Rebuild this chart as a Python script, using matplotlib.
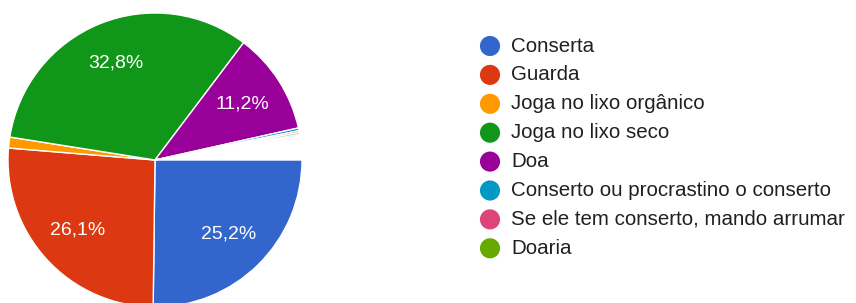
import matplotlib
matplotlib.use("Agg")
import matplotlib.pyplot as plt

plt.rcParams['font.family'] = ['Liberation Sans', 'DejaVu Sans']

categories = ["Conserta", "Guarda", "Joga no lixo orgânico", "Joga no lixo seco",
              "Doa", "Conserto ou procrastino o conserto",
              "Se ele tem conserto, mando arrumar", "Doaria"]
shares = [0.252, 0.261, 0.012, 0.328, 0.112, 0.003, 0.002, 0.002]
colors = ["#3366cc", "#dc3912", "#ff9900", "#109618", "#990099",
          "#0099c6", "#dd4477", "#66aa00"]

W, H = 856, 303
fig = plt.figure(figsize=(W / 100, H / 100), dpi=100)

# pie axes (pixel geometry: centre 155,160 ; radius 147)
cx, cy, r = 155, 160, 147
ax = fig.add_axes([(cx - r) / W, (H - cy - r) / H, 2 * r / W, 2 * r / H])

def fmt(p):
    return (f"{p:.1f}%".replace(".", ",")) if p > 5 else ""

wedges, texts, autotexts = ax.pie(
    shares, colors=colors, startangle=0, counterclock=False, normalize=False,
    autopct=fmt, pctdistance=0.71,
    wedgeprops=dict(edgecolor="white", linewidth=1.0),
    textprops=dict(color="white", fontsize=14))
ax.set_xlim(-1, 1)
ax.set_ylim(-1, 1)
ax.set_aspect("equal")
ax.axis("off")

# legend
lax = fig.add_axes([0, 0, 1, 1])
lax.set_xlim(0, W)
lax.set_ylim(H, 0)
lax.axis("off")
for i, (lab, col) in enumerate(zip(categories, colors)):
    y = 46 + i * 28.9
    lax.scatter([490], [y], s=210, color=col, edgecolors="none")
    lax.text(511, y, lab, fontsize=14.8, color="#202020", va="center", ha="left")

fig.savefig("out.png", dpi=100)
